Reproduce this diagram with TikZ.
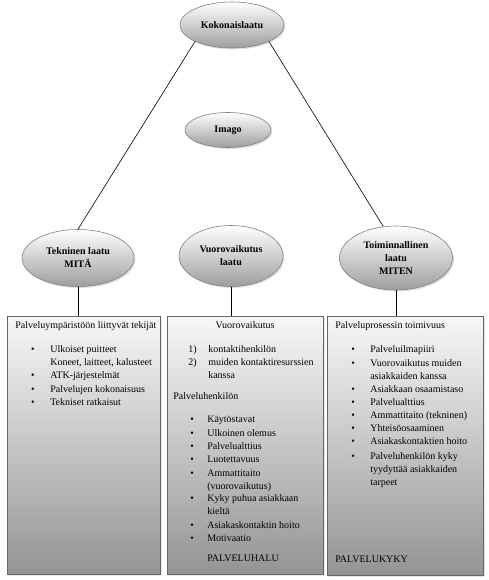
\documentclass[tikz,border=0pt]{standalone}
\usepackage{fontspec}
\setmainfont{Liberation Serif}
\usepackage{tikz}
\usetikzlibrary{shapes.geometric}
\usetikzlibrary{shadows}
\usetikzlibrary{positioning}

\begin{document}
\begin{tikzpicture}[x=1pt,y=-1pt,-,semithick,
                    font=\fontsize{10}{13}\selectfont]
 				 \tikzstyle{oval}=[draw=black!50, ellipse, inner sep=0pt, align=center,
 				       top color=white, bottom color=black!38,
 				       font=\fontsize{10}{13}\selectfont\bfseries,
 				       drop shadow={shadow xshift=1.5pt, shadow yshift=-1.5pt, opacity=0.25}]
 				 \tikzstyle{box}=[draw=black!60, thick, rectangle, anchor=north west, inner sep=0pt,
 				       top color=black!3, bottom color=black!42,
 				       drop shadow={shadow xshift=1.5pt, shadow yshift=-1.5pt, opacity=0.2}]
 				 \tikzstyle{txt}=[anchor=base west, inner sep=0pt]
 				 \tikzstyle{dot}=[anchor=base, inner sep=0pt]
 					 \useasboundingbox (0,0) rectangle (489,580);
 					 % boxes
 					 \node[box, minimum width=153pt, minimum height=258pt] (B1) at (7,316) {};
 					 \node[box, minimum width=156pt, minimum height=258pt] (B2) at (167,316) {};
 					 \node[box, minimum width=156pt, minimum height=259pt] (B3) at (327,316) {};
 					 % ovals
 					 \node[oval, minimum width=104pt, minimum height=46pt] (K) at (232,25) {Kokonaislaatu};
 					 \node[oval, minimum width=86pt, minimum height=35pt] (I) at (228,130) {Imago};
 					 \node[oval, minimum width=112pt, minimum height=57pt] (T) at (78,258) {Tekninen laatu\\MITÄ};
 					 \node[oval, minimum width=104pt, minimum height=61pt] (V) at (231,256) {Vuorovaikutus\\laatu};
 					 \node[oval, minimum width=113pt, minimum height=64pt] (M) at (396,258) {Toiminnallinen\\laatu\\MITEN};
 					 \path (K.south west) edge (T.north)
 					 		 	(K.south east) edge (M.112)
 					 			(T.south) edge (T.south |- B1.north)
 					 			(V.south) edge (V.south |- B2.north)
 					 			(M.south) edge (M.south |- B3.north);
 					 % left box
 					 \node[txt] (L0) at (15,328) {Palveluympäristöön liittyvät tekijät};
 					 \foreach \y/\t [count=\i] in {352/Ulkoiset puitteet, 365/{Koneet, laitteet, kalusteet},
 					         378/ATK-järjestelmät, 392/Palvelujen kokonaisuus, 405/Tekniset ratkaisut}
 					   \node[txt] (L\i) at (50,\y) {\t};
 					 \foreach \y [count=\i] in {352,378,392,405}
 					   \node[dot] (LB\i) at (33,\y) {\textbullet};
 					 % middle box
 					 \node[dot] (V0) at (245,328) {Vuorovaikutus};
 					 \node[txt] (N1) at (188,352) {1)};
 					 \node[txt] (N2) at (188,365) {2)};
 					 \foreach \y/\t [count=\i] in {352/kontaktihenkilön, 365/muiden kontaktiresurssien, 378/kanssa}
 					   \node[txt] (VN\i) at (208,\y) {\t};
 					 \node[txt] (VP) at (173,399) {Palveluhenkilön};
 					 \foreach \y/\t [count=\i] in {422/Käytöstavat, 436/Ulkoinen olemus, 449/Palvelualttius,
 					         462/Luotettavuus, 476/Ammattitaito, 489/(vuorovaikutus), 501/Kyky puhua asiakkaan,
 					         514/kieltä, 528/Asiakaskontaktin hoito, 541/Motivaatio, 561/PALVELUHALU}
 					   \node[txt] (V\i) at (207,\y) {\t};
 					 \foreach \y [count=\i] in {422,436,449,462,476,501,528,541}
 					   \node[dot] (VB\i) at (192,\y) {\textbullet};
 					 % right box
 					 \node[txt] (R0) at (335,328) {Palveluprosessin toimivuus};
 					 \foreach \y/\t [count=\i] in {352/Palveluilmapiiri, 366/Vuorovaikutus muiden, 379/asiakkaiden kanssa,
 					         392/Asiakkaan osaamistaso, 405/Palvelualttius, 418/Ammattitaito (tekninen),
 					         431/Yhteisöosaaminen, 444/Asiakaskontaktien hoito, 459/Palveluhenkilön kyky,
 					         472/tyydyttää asiakkaiden, 485/tarpeet}
 					   \node[txt] (R\i) at (370,\y) {\t};
 					 \foreach \y [count=\i] in {352,366,392,405,418,431,444,459}
 					   \node[dot] (RB\i) at (353,\y) {\textbullet};
 					 \node[txt] (RK) at (335,562) {PALVELUKYKY};
				\end{tikzpicture}
\end{document}
